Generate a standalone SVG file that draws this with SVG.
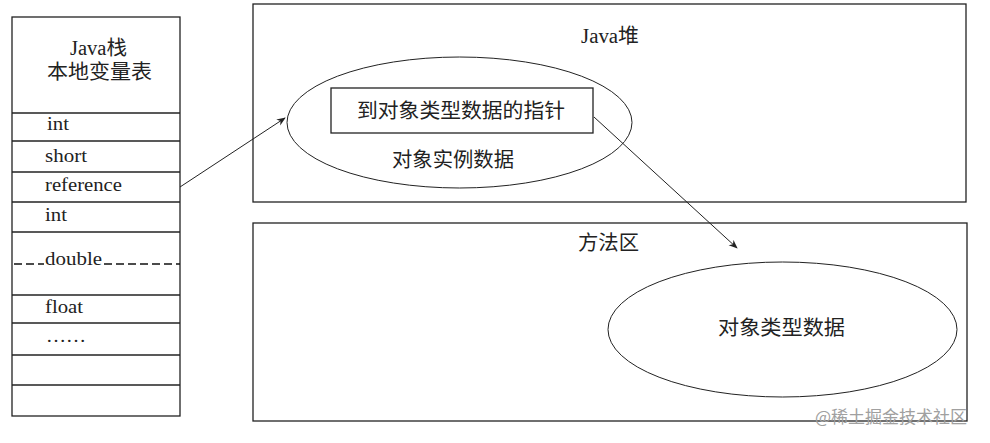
<svg xmlns="http://www.w3.org/2000/svg" width="990" height="443" viewBox="0 0 990 443">
<style>
.box{fill:none;stroke:#222;stroke-width:1.3}
.thin{fill:none;stroke:#222;stroke-width:1}
.dash{fill:none;stroke:#111;stroke-width:1.4;stroke-dasharray:8,4}
.t{font-family:"Liberation Serif","Noto Sans CJK SC",serif;fill:#222}
.lat{font-size:18px}
.cjk{font-size:20px}
.conn{fill:none;stroke:#222;stroke-width:1}
.wm{font-family:"Noto Sans CJK SC",sans-serif;font-size:17px;fill:#a0a0a0}
</style>
<defs>
<marker id="ah" viewBox="0 0 10 10" refX="9" refY="5" markerWidth="9" markerHeight="9" orient="auto" markerUnits="userSpaceOnUse">
<path d="M0,1 L10,5 L0,9 L3,5 z" fill="#222"/>
</marker>
</defs>
<rect width="990" height="443" fill="#fff"/>

<g id="java-stack">
<rect class="box" x="12" y="17" width="168" height="399"/>
<text class="t cjk" x="70" y="55" textLength="57" lengthAdjust="spacingAndGlyphs">Java栈</text>
<text class="t cjk" x="47" y="79" textLength="105" lengthAdjust="spacingAndGlyphs">本地变量表</text>
<line class="box" x1="12" y1="113" x2="180" y2="113"/>
<line class="box" x1="12" y1="141" x2="180" y2="141"/>
<line class="box" x1="12" y1="172" x2="180" y2="172"/>
<line class="box" x1="12" y1="202" x2="180" y2="202"/>
<line class="box" x1="12" y1="232" x2="180" y2="232"/>
<line class="box" x1="12" y1="295" x2="180" y2="295"/>
<line class="box" x1="12" y1="323" x2="180" y2="323"/>
<line class="box" x1="12" y1="355" x2="180" y2="355"/>
<line class="box" x1="12" y1="385" x2="180" y2="385"/>
<line class="dash" x1="14" y1="264" x2="44" y2="264"/>
<line class="dash" x1="104" y1="264" x2="180" y2="264"/>
<text class="t lat" x="47" y="130" textLength="22" lengthAdjust="spacingAndGlyphs">int</text>
<text class="t lat" x="45" y="162" textLength="42" lengthAdjust="spacingAndGlyphs">short</text>
<text class="t lat" x="45" y="191" textLength="77" lengthAdjust="spacingAndGlyphs">reference</text>
<text class="t lat" x="45" y="221" textLength="22" lengthAdjust="spacingAndGlyphs">int</text>
<text class="t lat" x="45" y="265" textLength="57" lengthAdjust="spacingAndGlyphs">double</text>
<text class="t lat" x="45" y="313" textLength="38" lengthAdjust="spacingAndGlyphs">float</text>
<text class="t lat" x="46" y="342" textLength="40" lengthAdjust="spacingAndGlyphs">……</text>
</g>

<g id="java-heap">
<rect class="box" x="253" y="4" width="713" height="198"/>
<text class="t cjk" x="581" y="43" textLength="58" lengthAdjust="spacingAndGlyphs">Java堆</text>
</g>

<g id="object-instance">
<ellipse class="thin" cx="459.5" cy="122.5" rx="172.5" ry="65.5"/>
<text class="t cjk" x="392" y="167" textLength="122" lengthAdjust="spacingAndGlyphs">对象实例数据</text>
</g>

<g id="type-pointer">
<rect class="box" x="331" y="88" width="262" height="45"/>
<text class="t cjk" x="357" y="118" textLength="208" lengthAdjust="spacingAndGlyphs">到对象类型数据的指针</text>
</g>

<g id="method-area">
<rect class="box" x="253" y="223" width="714" height="198"/>
<text class="t cjk" x="578" y="250" textLength="61" lengthAdjust="spacingAndGlyphs">方法区</text>
</g>

<g id="object-type-data">
<ellipse class="thin" cx="782.5" cy="329.5" rx="174.5" ry="67.5"/>
<text class="t cjk" x="718" y="335" textLength="127" lengthAdjust="spacingAndGlyphs">对象类型数据</text>
</g>

<g id="connectors">
<line class="conn" x1="180" y1="187" x2="285" y2="118" marker-end="url(#ah)"/>
<line class="conn" x1="594" y1="117" x2="737" y2="248" marker-end="url(#ah)"/>
</g>

<text class="wm" x="815" y="423">@稀土掘金技术社区</text>
</svg>
